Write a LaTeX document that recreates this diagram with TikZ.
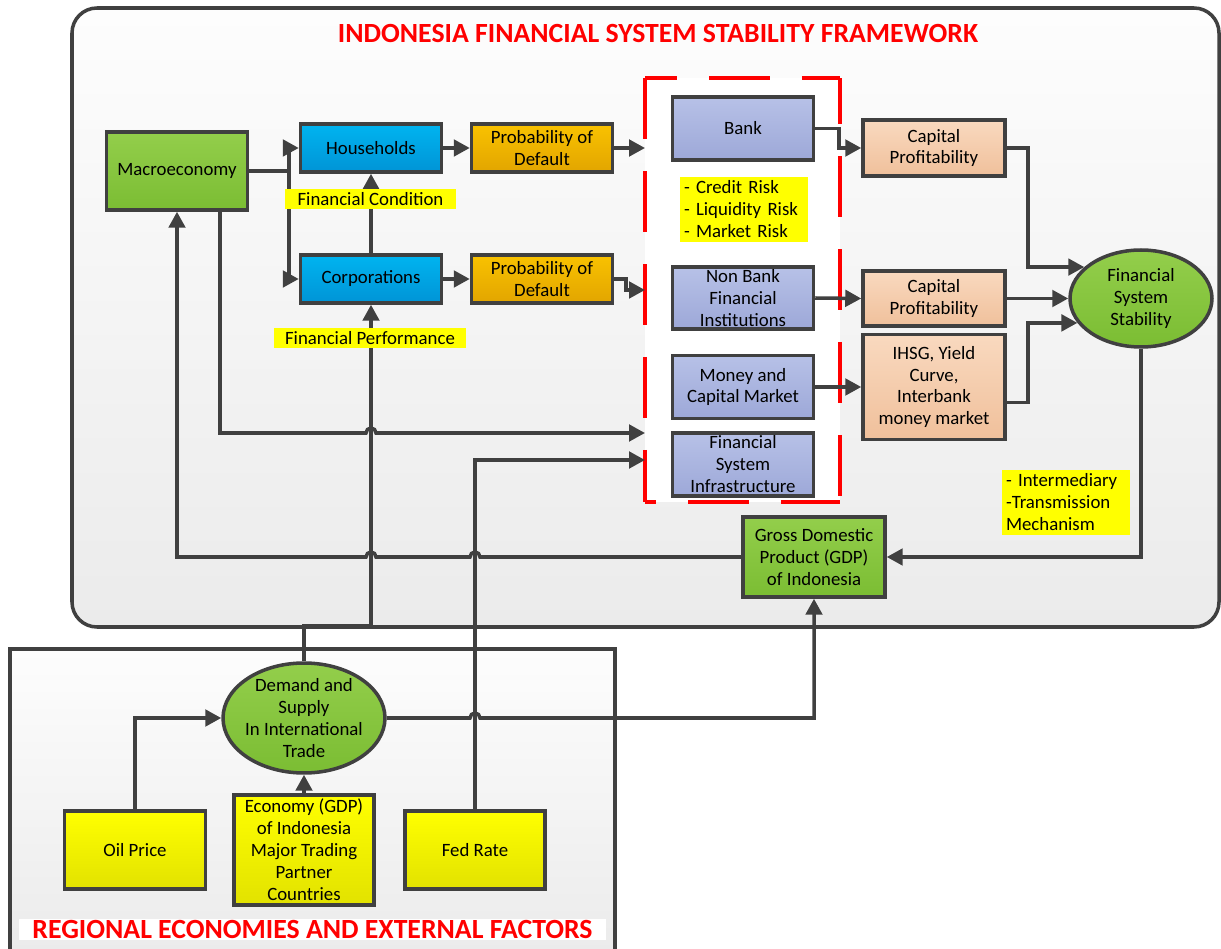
\documentclass[tikz,border=0pt]{standalone}
\usepackage{fontspec}
\setmainfont{Carlito}
\usepackage{tikz}
\usetikzlibrary{positioning,arrows.meta,shapes.geometric}
\definecolor{cline}{HTML}{404040}
\definecolor{cred}{HTML}{FF0000}
\definecolor{cgreentop}{HTML}{93CE4B}
\definecolor{cgreenbot}{HTML}{7BBD33}
\definecolor{cbluetop}{HTML}{00B4F0}
\definecolor{cbluebot}{HTML}{0094D6}
\definecolor{corangetop}{HTML}{F9C200}
\definecolor{corangebot}{HTML}{E2A500}
\definecolor{cinsttop}{HTML}{B7C1E7}
\definecolor{cinstbot}{HTML}{9DA8D8}
\definecolor{cpeachtop}{HTML}{F9D9BF}
\definecolor{cpeachbot}{HTML}{F0C09B}
\definecolor{cyellowtop}{HTML}{FFFF00}
\definecolor{cyellowbot}{HTML}{E2E200}
\definecolor{cnote}{HTML}{FFFF00}
\definecolor{cpaneltop}{HTML}{FDFDFD}
\definecolor{cpanelbot}{HTML}{EBEBEB}
\newcommand{\flowfont}{\fontsize{10.7}{12.5}\selectfont}
\newcommand{\titlefont}{\fontsize{15.8}{18}\selectfont\bfseries}
\tikzset{
  flowbox/.style={rectangle, draw=cline, line width=2pt, align=center,
    inner sep=0pt, minimum width=2.82cm, font=\flowfont},
  macrobox/.style={flowbox, top color=cgreentop, bottom color=cgreenbot},
  sectorbox/.style={flowbox, top color=cbluetop, bottom color=cbluebot, minimum height=0.96cm},
  pdbox/.style={flowbox, top color=corangetop, bottom color=corangebot, minimum height=0.96cm},
  instbox/.style={flowbox, top color=cinsttop, bottom color=cinstbot, minimum height=1.26cm},
  capbox/.style={flowbox, top color=cpeachtop, bottom color=cpeachbot, minimum width=2.84cm},
  extbox/.style={flowbox, top color=cyellowtop, bottom color=cyellowbot},
  roundnode/.style={ellipse, draw=cline, line width=2pt, align=center, inner sep=0pt,
    top color=cgreentop, bottom color=cgreenbot, font=\flowfont},
  notelabel/.style={rectangle, fill=cnote, inner sep=0pt, font=\flowfont},
  listlabel/.style={notelabel, text width=2.4cm, inner sep=0.08cm, align=left, minimum height=1.22cm},
  groupbox/.style={rectangle, fill=white, outer sep=0pt, minimum width=3.9cm, minimum height=8.48cm},
  groupedge/.style={draw=cred, line width=2pt, dash pattern=on 12.2mm off 6.4mm},
  panel/.style={draw=cline, line width=2pt, top color=cpaneltop, bottom color=cpanelbot},
  paneltitle/.style={text=cred, font=\titlefont, inner sep=0pt},
  flowline/.style={line width=2pt, draw=cline},
  flowarrow/.style={flowline, -{Triangle[length=3.2mm,width=3.3mm]}}
}
\begin{document}
\begin{tikzpicture}[x=0.02cm, y=-0.02cm]
  \useasboundingbox (0,0) rectangle (1221,949);
  \draw[panel, rounded corners=5mm] (72,8) rectangle (1219,627);
  \draw[panel] (10,649) rectangle (615,953);
  \node[paneltitle] (maintitle) at (658,33) {INDONESIA FINANCIAL SYSTEM STABILITY FRAMEWORK};
  \node[paneltitle, fill=white, minimum width=11.74cm, minimum height=0.42cm] (regtitle) at (312.5,929.5)
    {REGIONAL ECONOMIES AND EXTERNAL FACTORS};

  \node[groupbox] (fsgroup) at (742.5,290) {};
  \draw[groupedge, dash phase=5.8mm] (fsgroup.north west) -- (fsgroup.north east);
  \draw[groupedge, dash phase=10mm] (fsgroup.south west) -- (fsgroup.south east);
  \draw[groupedge] (fsgroup.north west) -- (fsgroup.south west);
  \draw[groupedge, dash phase=3mm] (fsgroup.north east) -- (fsgroup.south east);

  \node[macrobox, minimum height=1.56cm] (macro) at (177,171) {Macroeconomy};
  \node[sectorbox] (house) at (371,148) {Households};
  \node[sectorbox] (corp) at (371,279) {Corporations};
  \node[pdbox] (pd1) at (542,148) {Probability of\\Default};
  \node[pdbox] (pd2) at (542,279) {Probability of\\Default};
  \node[instbox] (bank) at (743,128.5) {Bank};
  \node[instbox, minimum height=1.24cm] (nonbank) at (743,298) {Non Bank\\Financial\\Institutions};
  \node[instbox] (money) at (743,387) {Money and\\Capital Market};
  \node[instbox] (fsi) at (743,464.5) {Financial\\System\\Infrastructure};
  \node[capbox, minimum height=1.12cm] (cp1) at (934,148) {Capital\\Profitability};
  \node[capbox, minimum height=1.1cm] (cp2) at (934,298.5) {Capital\\Profitability};
  \node[capbox, minimum height=2.1cm] (ihsg) at (934,387) {IHSG, Yield\\Curve,\\Interbank\\money market};
  \node[roundnode, minimum width=2.84cm, minimum height=1.94cm] (fss) at (1141,298.5)
    {Financial\\System\\Stability};
  \node[macrobox, minimum width=2.84cm, minimum height=1.6cm] (gdp) at (814,557)
    {Gross Domestic\\Product (GDP)\\of Indonesia};
  \node[roundnode, inner sep=-2pt, minimum width=3.24cm, minimum height=2.2cm] (demand) at (304,718)
    {Demand and\\Supply\\In International\\Trade};
  \node[extbox, minimum height=1.56cm] (oil) at (135,850) {Oil Price};
  \node[extbox, minimum width=2.8cm, minimum height=2.2cm] (econ) at (304,850)
    {Economy (GDP)\\of Indonesia\\Major Trading\\Partner\\Countries};
  \node[extbox, minimum width=2.8cm, minimum height=1.56cm] (fed) at (475,850) {Fed Rate};

  \coordinate (inpd) at (645,290);
  \coordinate (inmacro) at (645,433);
  \coordinate (infed) at (645,460);
  \coordinate (junc) at (371,626);

  \draw[flowarrow] (macro.east) -- ++(40,0) |- (house.west);
  \draw[flowarrow] (macro.east) -- ++(40,0) |- (corp.west);
  \draw[flowarrow] (corp.north) -- (house.south);
  \draw[flowarrow] (house.east) -- (pd1.west);
  \draw[flowarrow] (corp.east) -- (pd2.west);
  \draw[flowarrow] (pd1.east) -- (pd1.east -| fsgroup.west);
  \draw[flowarrow] (pd2.east) -- ++(12,0) |- (inpd);
  \draw[flowarrow] (bank.east) -- ++(24,0) |- (cp1.west);
  \draw[flowarrow] (nonbank.east) -- (cp2.west);
  \draw[flowarrow] (money.east) -- (ihsg.west);
  \draw[flowarrow] (cp1.east) -- ++(21,0) |- (fss.151);
  \draw[flowarrow] (cp2.east) -- (fss.west);
  \draw[flowarrow] ([yshift=-3.1mm]ihsg.east) -- ++(21,0) |- (fss.201);
  \draw[flowarrow] (fss.south) |- (gdp.east);
  \draw[flowarrow] ([xshift=8.6mm]macro.south) |- (366,433)
    arc[start angle=180, end angle=0, radius=1mm] -- (inmacro);
  \draw[flowarrow] (gdp.west) -- (480,557) arc[start angle=0, end angle=180, radius=1mm]
    -- (376,557) arc[start angle=0, end angle=180, radius=1mm] -| (macro.south);
  \draw[flowarrow] (demand.east) -- (470,718) arc[start angle=180, end angle=0, radius=1mm]
    -| (gdp.south);
  \draw[flowarrow] (fed.north) |- (infed);
  \draw[flowarrow] (oil.north) |- (demand.west);
  \draw[flowarrow] (econ.north) -- (demand.south);
  \draw[flowarrow] (demand.north) |- (junc) -- (corp.south);

  \node[notelabel, minimum width=3.42cm, minimum height=0.4cm] (fincond) at (370.5,199) {Financial Condition};
  \node[notelabel, minimum width=3.84cm, minimum height=0.4cm] (finperf) at (370,338) {Financial Performance};
  \node[listlabel] (risks) at (744,209.5) {- Credit Risk\\- Liquidity Risk\\- Market Risk};
  \node[listlabel] (channels) at (1066,502.5) {- Intermediary\\-Transmission\\Mechanism};
\end{tikzpicture}
\end{document}
